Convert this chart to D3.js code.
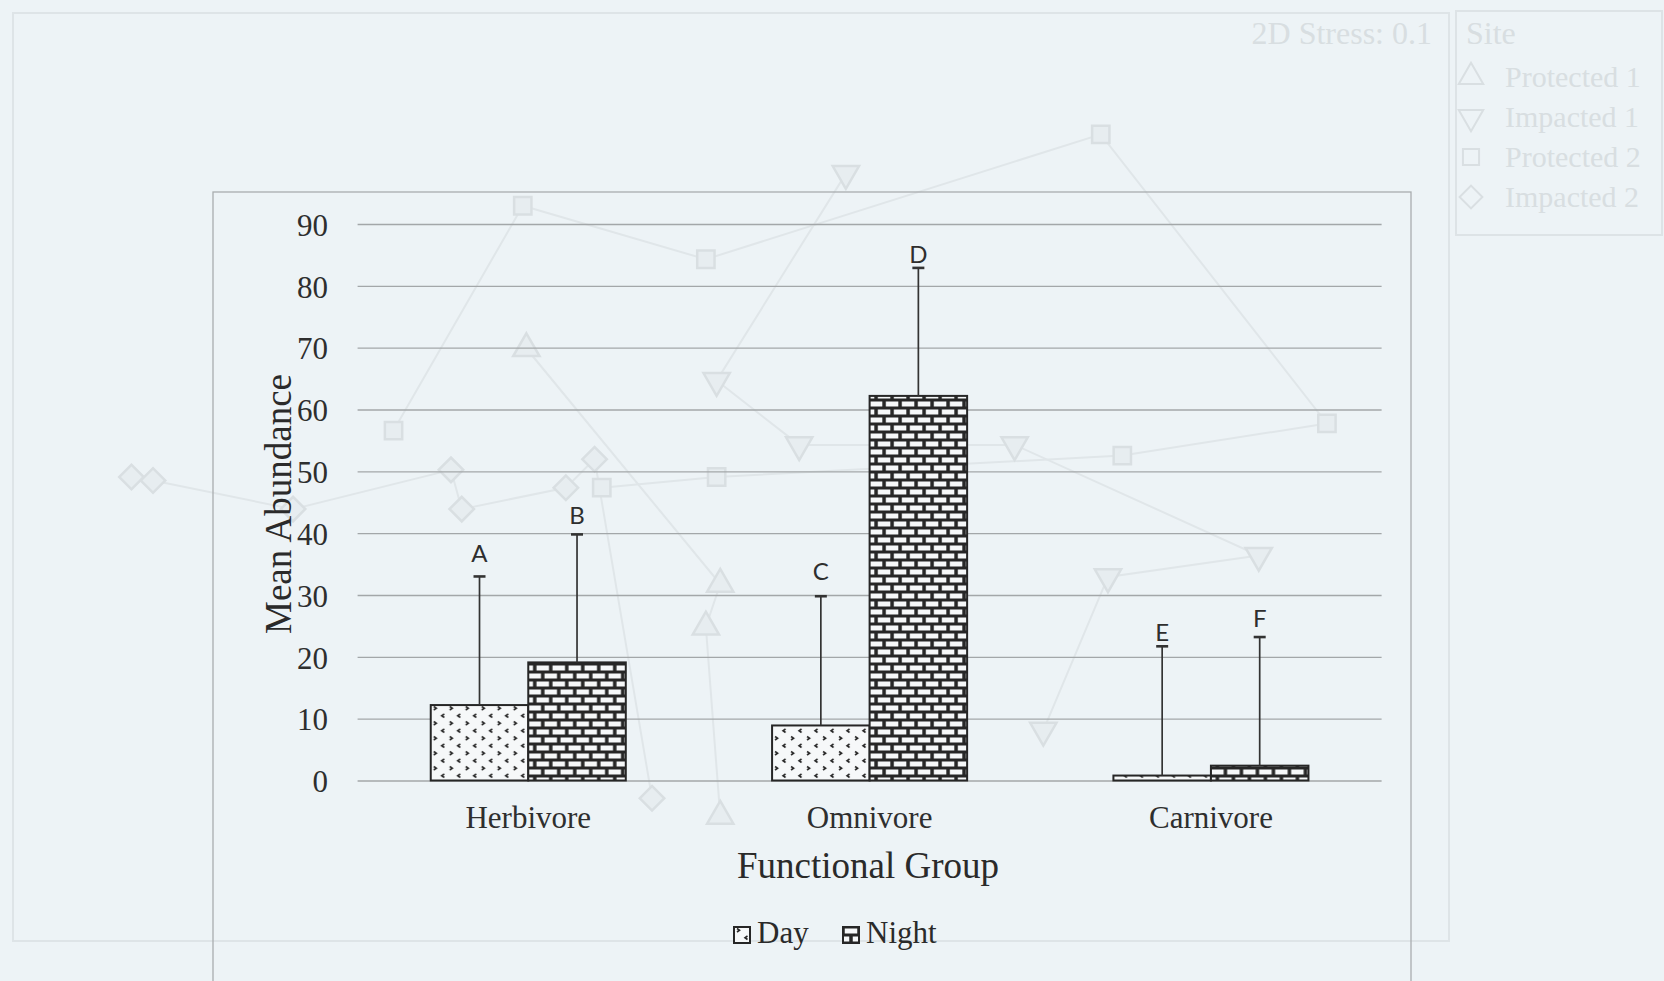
<!DOCTYPE html>
<html>
<head>
<meta charset="utf-8">
<script src="https://cdn.jsdelivr.net/npm/d3@7"></script>
<style>
  html, body { margin: 0; padding: 0; background: #edf3f6; }
  svg { display: block; }
  text { font-family: "Liberation Serif", "Times New Roman", serif; }
  text.letter { font-family: Lato, "Open Sans", sans-serif; }
</style>
</head>
<body>
<svg id="chart" width="1664" height="981"></svg>
<script>
// ---- Bar chart data: mean abundance by functional group, day vs night ----
const categories = ["Herbivore", "Omnivore", "Carnivore"];
const seriesNames = ["Day", "Night"];
const dayMeans = [12.2, 8.9, 0.8];
const nightMeans = [19.1, 62.2, 2.4];
const dayErrors = [20.8, 20.9, 20.9];
const nightErrors = [20.7, 20.7, 20.8];
const dayLetters = ["A", "C", "E"];
const nightLetters = ["B", "D", "F"];
const yTicks = [0, 10, 20, 30, 40, 50, 60, 70, 80, 90];

// ---- Faint NMDS ordination printed behind the bar chart ----
const stressLabel = "2D Stress: 0.1";
const siteNames = ["Protected 1", "Impacted 1", "Protected 2", "Impacted 2"];
const protected1 = [[-0.57, 0.36], [-0.03, -0.30], [-0.07, -0.42], [-0.03, -0.95]];
const impacted1 = [[0.32, 0.85], [-0.04, 0.27], [0.19, 0.09], [0.79, 0.09], [1.47, -0.22], [1.05, -0.28], [0.87, -0.71]];
const protected2 = [[-0.94, 0.13], [-0.58, 0.76], [-0.07, 0.61], [1.03, 0.96], [1.66, 0.15], [1.09, 0.06], [-0.04, 0.00], [-0.36, -0.03]];
const impacted2 = [[-1.67, 0.00], [-1.61, -0.01], [-1.22, -0.09], [-0.78, 0.02], [-0.75, -0.09], [-0.46, -0.03], [-0.38, 0.05], [-0.22, -0.90]];

const svg = d3.select("#chart");
const ink = "#262626";
const faint = "#d9dfe2";

// ================= NMDS layer =================
const nm = svg.append("g").attr("class", "nmds");
const nx = d3.scaleLinear().domain([-2, 2]).range([13, 1449]);
const ny = d3.scaleLinear().domain([-1.3, 1.3]).range([941, 13]);

nm.append("rect").attr("x", 13).attr("y", 13).attr("width", 1436).attr("height", 928)
  .attr("fill", "none").attr("stroke", "#dee4e7").attr("stroke-width", 2);

const siteGroups = [
  { pts: protected1, shape: d3.symbolTriangle, rot: 0 },
  { pts: impacted1, shape: d3.symbolTriangle, rot: 180 },
  { pts: protected2, shape: d3.symbolSquare, rot: 0 },
  { pts: impacted2, shape: d3.symbolSquare, rot: 45 }
];
const nline = d3.line().x(d => nx(d[0])).y(d => ny(d[1]));
siteGroups.forEach(g => {
  nm.append("path").attr("d", nline(g.pts)).attr("fill", "none")
    .attr("stroke", "#e0e6e9").attr("stroke-width", 2);
});
siteGroups.forEach(g => {
  nm.selectAll(null).data(g.pts).enter().append("path")
    .attr("d", d3.symbol().type(g.shape).size(300))
    .attr("transform", d => `translate(${nx(d[0])},${ny(d[1])}) rotate(${g.rot})`)
    .attr("fill", "#e7edf0").attr("stroke", faint).attr("stroke-width", 2.5);
});
nm.append("text").attr("x", 1432).attr("y", 44).attr("text-anchor", "end")
  .attr("font-size", 32).attr("fill", "#d8dee1").text(stressLabel);

// site legend box
nm.append("rect").attr("x", 1456).attr("y", 11).attr("width", 206).attr("height", 224)
  .attr("fill", "none").attr("stroke", "#dde3e6").attr("stroke-width", 2);
nm.append("text").attr("x", 1466).attr("y", 44).attr("font-size", 32)
  .attr("fill", "#d8dee1").text("Site");
siteNames.forEach((name, i) => {
  const cy = 77 + i * 40;
  nm.append("path").attr("d", d3.symbol().type(siteGroups[i].shape).size(260))
    .attr("transform", `translate(1471,${cy}) rotate(${siteGroups[i].rot})`)
    .attr("fill", "none").attr("stroke", faint).attr("stroke-width", 2);
  nm.append("text").attr("x", 1505).attr("y", cy + 10).attr("font-size", 30)
    .attr("fill", "#d8dee1").text(name);
});

// ================= Bar chart =================
const defs = svg.append("defs");

// dotted chevron fill for Day
const pDay = defs.append("pattern").attr("id", "dayFill").attr("patternUnits", "userSpaceOnUse")
  .attr("width", 16).attr("height", 15);
pDay.append("rect").attr("width", 16).attr("height", 15).attr("fill", "#f6f8f9");
pDay.append("path").attr("d", "M3,1.5 L5.5,3.2 L3,5").attr("fill", "none")
  .attr("stroke", ink).attr("stroke-width", 1.6);
pDay.append("path").attr("d", "M13.5,9 L11,10.7 L13.5,12.5").attr("fill", "none")
  .attr("stroke", ink).attr("stroke-width", 1.6);

// brick fill for Night
const pNight = defs.append("pattern").attr("id", "nightFill").attr("patternUnits", "userSpaceOnUse")
  .attr("width", 16).attr("height", 16);
pNight.append("rect").attr("width", 16).attr("height", 16).attr("fill", ink);
[[1.75, 1.5], [-6.25, 9.5], [9.75, 9.5]].forEach(([bx, by]) => {
  pNight.append("rect").attr("x", bx).attr("y", by).attr("width", 12.5).attr("height", 5)
    .attr("fill", "#f6f8f9");
});

// chart frame
svg.append("rect").attr("x", 213).attr("y", 192).attr("width", 1198).attr("height", 820)
  .attr("fill", "none").attr("stroke", "#a9adaf").attr("stroke-width", 1.3);

const x0 = d3.scaleBand().domain(categories).range([357.6, 1381.6])
  .paddingInner(0.4286).paddingOuter(0.2143);
const x1 = d3.scaleBand().domain(seriesNames).range([0, x0.bandwidth()]).padding(0);
const y = d3.scaleLinear().domain([0, 90]).range([780.5, 224]);

// gridlines
svg.append("g").attr("transform", "translate(357.6,0)")
  .call(d3.axisLeft(y).tickValues(yTicks).tickSize(-1024).tickFormat(""))
  .call(g => g.select(".domain").remove())
  .call(g => g.selectAll("line").attr("stroke", "#a3a7a9").attr("stroke-width", 1.4));

// y tick labels
svg.append("g").attr("transform", "translate(328,0)")
  .call(d3.axisLeft(y).tickValues(yTicks).tickSize(0).tickPadding(0))
  .call(g => g.select(".domain").remove())
  .call(g => g.selectAll("text").attr("font-size", 31).attr("fill", "#2e2e2e").attr("dy", "0.36em"));

// category labels
svg.append("g").attr("transform", "translate(0,828)")
  .call(d3.axisBottom(x0).tickSize(0).tickPadding(0))
  .call(g => g.select(".domain").remove())
  .call(g => g.selectAll("text").attr("font-size", 31).attr("fill", "#2e2e2e").attr("dy", 0));

const rows = categories.map((c, i) => ({
  cat: c,
  bars: [
    { s: "Day", v: dayMeans[i], e: dayErrors[i], letter: dayLetters[i], fill: "url(#dayFill)" },
    { s: "Night", v: nightMeans[i], e: nightErrors[i], letter: nightLetters[i], fill: "url(#nightFill)" }
  ]
}));

// vertical room between each error cap and its letter
const letterGap = { A: 14, B: 10, C: 16, D: 5, E: 5, F: 10 };

const groups = svg.selectAll(".grp").data(rows).enter().append("g")
  .attr("class", "grp").attr("transform", d => `translate(${x0(d.cat)},0)`);

groups.selectAll(".bar").data(d => d.bars).enter().append("rect")
  .attr("class", "bar")
  .attr("x", d => x1(d.s)).attr("width", x1.bandwidth())
  .attr("y", d => y(d.v)).attr("height", d => y(0) - y(d.v))
  .attr("fill", d => d.fill).attr("stroke", ink).attr("stroke-width", 2);

// plus-only error bars
groups.selectAll(".err").data(d => d.bars).enter().append("line")
  .attr("x1", d => x1(d.s) + x1.bandwidth() / 2).attr("x2", d => x1(d.s) + x1.bandwidth() / 2)
  .attr("y1", d => y(d.v)).attr("y2", d => y(d.v + d.e))
  .attr("stroke", "#333").attr("stroke-width", 1.7);
groups.selectAll(".cap").data(d => d.bars).enter().append("line")
  .attr("x1", d => x1(d.s) + x1.bandwidth() / 2 - 6).attr("x2", d => x1(d.s) + x1.bandwidth() / 2 + 6)
  .attr("y1", d => y(d.v + d.e)).attr("y2", d => y(d.v + d.e))
  .attr("stroke", "#333").attr("stroke-width", 2.6);

// significance letters
groups.selectAll(".lt").data(d => d.bars).enter().append("text")
  .attr("class", "letter")
  .attr("x", d => x1(d.s) + x1.bandwidth() / 2)
  .attr("y", d => y(d.v + d.e) - letterGap[d.letter])
  .attr("text-anchor", "middle")
  .attr("font-size", 24).attr("fill", "#2e2e2e").text(d => d.letter);

// axis titles
svg.append("text").attr("transform", "translate(291,504) rotate(-90)")
  .attr("text-anchor", "middle").attr("font-size", 37).attr("fill", "#2a2a2a")
  .text("Mean Abundance");
svg.append("text").attr("x", 868).attr("y", 878).attr("text-anchor", "middle")
  .attr("font-size", 37).attr("fill", "#2a2a2a").text("Functional Group");

// legend
const legendItems = [
  { name: seriesNames[0], fill: "url(#dayFill)", x: 734 },
  { name: seriesNames[1], fill: "url(#nightFill)", x: 843 }
];
const lg = svg.selectAll(".lg").data(legendItems).enter().append("g")
  .attr("transform", d => `translate(${d.x},927)`);
lg.append("rect").attr("width", 16).attr("height", 16).attr("fill", d => d.fill)
  .attr("stroke", ink).attr("stroke-width", 2);
lg.append("text").attr("x", 23).attr("y", 15.5).attr("font-size", 31)
  .attr("fill", "#2a2a2a").text(d => d.name);
</script>
</body>
</html>
